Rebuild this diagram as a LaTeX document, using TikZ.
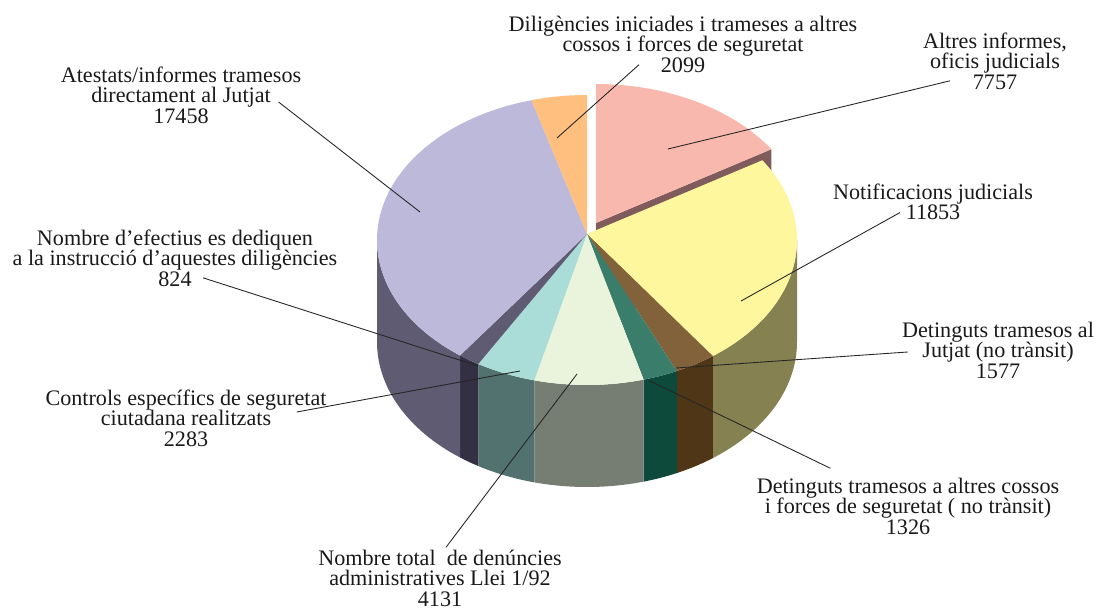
\documentclass[tikz,border=0pt]{standalone}
\usepackage{fontspec}
\setmainfont{Liberation Serif}
\usetikzlibrary{calc}
\definecolor{lavtop}{HTML}{BDB9DB}
\definecolor{lavside}{HTML}{5E5B72}
\definecolor{dlavtop}{HTML}{5E5B72}
\definecolor{dlavside}{HTML}{333044}
\definecolor{cyantop}{HTML}{AADCD8}
\definecolor{cyanside}{HTML}{52726F}
\definecolor{paletop}{HTML}{EAF4DC}
\definecolor{paleside}{HTML}{767E73}
\definecolor{tealtop}{HTML}{3A7D6B}
\definecolor{tealside}{HTML}{0D4A3B}
\definecolor{browntop}{HTML}{82623A}
\definecolor{brownside}{HTML}{4E3617}
\definecolor{yeltop}{HTML}{FFF79E}
\definecolor{yelside}{HTML}{858151}
\definecolor{pinktop}{HTML}{F8B8AE}
\definecolor{pinkside}{HTML}{7F5B5B}
\definecolor{orangetop}{HTML}{FFBF7F}
\begin{document}
\begin{tikzpicture}[x=0.02cm,y=-0.02cm,
  rim/.style={x radius=210,y radius=145},
  lbl/.style={align=center,inner sep=0pt,text=black!90,font=\fontsize{12.6}{11.7}\selectfont},
  lead/.style={black!85,line width=0.5pt}]
\useasboundingbox (0,0) rectangle (1101,611);
\coordinate (E) at (587,240);
\coordinate (O) at (587,234);
\coordinate (PE) at (596,229);
\coordinate (PO) at (596,223);
% exploded slice
\fill[pinkside] (PO) -- ($(PE)+(-33.37:210 and 145)$) -- ++(0,102) -- ($(PO)+(0,102)$) -- cycle;
\fill[pinktop] (PO) -- ($(PE)+(-90:210 and 145)$) arc[start angle=-90,end angle=-33.37,rim] -- cycle;
% sides
\fill[yelside] ($(E)+(0:210 and 145)$) arc[start angle=0,end angle=53.17,rim] -- ++(0,102) arc[start angle=53.17,end angle=0,rim] -- cycle;
\fill[brownside] ($(E)+(53.17:210 and 145)$) arc[start angle=53.17,end angle=64.68,rim] -- ++(0,102) arc[start angle=64.68,end angle=53.17,rim] -- cycle;
\fill[tealside] ($(E)+(64.68:210 and 145)$) arc[start angle=64.68,end angle=74.36,rim] -- ++(0,102) arc[start angle=74.36,end angle=64.68,rim] -- cycle;
\fill[paleside] ($(E)+(74.36:210 and 145)$) arc[start angle=74.36,end angle=104.53,rim] -- ++(0,102) arc[start angle=104.53,end angle=74.36,rim] -- cycle;
\fill[cyanside] ($(E)+(104.53:210 and 145)$) arc[start angle=104.53,end angle=121.19,rim] -- ++(0,102) arc[start angle=121.19,end angle=104.53,rim] -- cycle;
\fill[dlavside] ($(E)+(121.19:210 and 145)$) arc[start angle=121.19,end angle=127.21,rim] -- ++(0,102) arc[start angle=127.21,end angle=121.19,rim] -- cycle;
\fill[lavside] ($(E)+(127.21:210 and 145)$) arc[start angle=127.21,end angle=180,rim] -- ++(0,102) arc[start angle=180,end angle=127.21,rim] -- cycle;
% tops
\fill[yeltop] (O) -- ($(E)+(-33.37:210 and 145)$) arc[start angle=-33.37,end angle=53.17,rim] -- cycle;
\fill[browntop] (O) -- ($(E)+(53.17:210 and 145)$) arc[start angle=53.17,end angle=64.68,rim] -- cycle;
\fill[tealtop] (O) -- ($(E)+(64.68:210 and 145)$) arc[start angle=64.68,end angle=74.36,rim] -- cycle;
\fill[paletop] (O) -- ($(E)+(74.36:210 and 145)$) arc[start angle=74.36,end angle=104.53,rim] -- cycle;
\fill[cyantop] (O) -- ($(E)+(104.53:210 and 145)$) arc[start angle=104.53,end angle=121.19,rim] -- cycle;
\fill[dlavtop] (O) -- ($(E)+(121.19:210 and 145)$) arc[start angle=121.19,end angle=127.21,rim] -- cycle;
\fill[lavtop] (O) -- ($(E)+(127.21:210 and 145)$) arc[start angle=127.21,end angle=254.67,rim] -- cycle;
\fill[orangetop] (O) -- ($(E)+(254.67:210 and 145)$) arc[start angle=254.67,end angle=270,rim] -- cycle;
% labels
\node[lbl] (atest) at (181,95) {Atestats/informes tramesos\\directament al Jutjat\\17458};
\node[lbl] (efect) at (175,258) {Nombre d’efectius es dediquen\\a la instrucció d’aquestes diligències\\824};
\node[lbl] (contr) at (186,418) {Controls específics de seguretat\\ciutadana realitzats\\2283};
\node[lbl] (ntot) at (440,578) {Nombre total\ \ de denúncies\\administratives Llei 1/92\\4131};
\node[lbl] (detalt) at (908,506) {Detinguts tramesos a altres cossos\\i forces de seguretat ( no trànsit)\\1326};
\node[lbl] (detjut) at (998,350) {Detinguts tramesos al\\Jutjat (no trànsit)\\1577};
\node[lbl] (notif) at (933,202) {Notificacions judicials\\11853};
\node[lbl] (altres) at (995,61) {Altres informes,\\oficis judicials\\7757};
\node[lbl] (dilig) at (683,44) {Diligències iniciades i trameses a altres\\cossos i forces de seguretat\\2099};
% leaders
\coordinate (atest-e) at (420,212);
\coordinate (efect-e) at (478,366);
\coordinate (contr-e) at (520,371);
\coordinate (ntot-e) at (577,374);
\coordinate (detalt-e) at (648,380);
\coordinate (detjut-e) at (676,368);
\coordinate (notif-e) at (741,301);
\coordinate (altres-e) at (668,149);
\coordinate (dilig-e) at (557,138);
\draw[lead] ([shift={(-23,7)}]atest.east) -- (atest-e);
\draw[lead] ([shift={(28,-9)}]efect.south) -- (efect-e);
\draw[lead] ([shift={(-30,-6)}]contr.east) -- (contr-e);
\draw[lead] ([shift={(6,-2)}]ntot.north) -- (ntot-e);
\draw[lead] ([shift={(74,-9)}]detalt.north west) -- (detalt-e);
\draw[lead] ([shift={(6,2)}]detjut.west) -- (detjut-e);
\draw[lead] ([shift={(-33,-8)}]notif.south) -- (notif-e);
\draw[lead] ([shift={(-45,-9)}]altres.south) -- (altres-e);
\draw[lead] ([shift={(-44,-8)}]dilig.south) -- (dilig-e);
\end{tikzpicture}
\end{document}
